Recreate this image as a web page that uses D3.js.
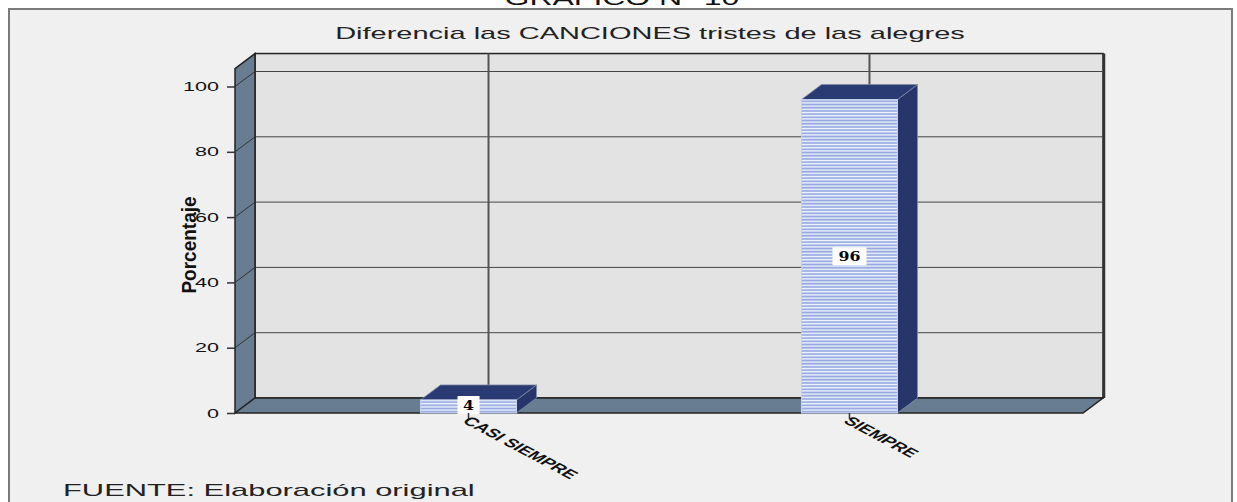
<!DOCTYPE html>
<html><head><meta charset="utf-8">
<script src="https://cdn.jsdelivr.net/npm/d3@7"></script>
<style>html,body{margin:0;padding:0;background:#fff;}</style>
</head><body>
<script>
const categories = ["CASI SIEMPRE", "SIEMPRE"];
const values = [4, 96];
const valueLabels = ["4", "96"];
const yTicks = [0, 20, 40, 60, 80, 100];
const chartTitle = "Diferencia las CANCIONES tristes de las alegres";
const topTitle = "GRAFICO N° 10";
const yLabel = "Porcentaje";
const source = "FUENTE: Elaboración original";

const W = 1237, H = 502, SX = 1.7;
const svg = d3.select("body").append("svg").attr("width", W).attr("height", H);
const defs = svg.append("defs");
const pat = defs.append("pattern").attr("id","stripes").attr("patternUnits","userSpaceOnUse")
  .attr("width",4).attr("height",3.2);
pat.append("rect").attr("width",4).attr("height",3.2).attr("fill","#f4f7fe");
pat.append("rect").attr("y",1.2).attr("width",4).attr("height",1.8).attr("fill","#93a8df");

const SANS = "Arial, Liberation Sans, sans-serif";
function stext(parent, str, x, y, opts) {
  const t = parent.append("text").attr("font-family", opts.family || SANS)
    .attr("font-size", opts.size).attr("fill", opts.fill || "#111")
    .attr("text-anchor", opts.anchor || "start").text(str);
  if (opts.weight) t.attr("font-weight", opts.weight);
  let sx = SX;
  if (opts.width) sx = opts.width / t.node().getComputedTextLength();
  t.attr("transform", `translate(${x},${y}) scale(${sx},1)`);
  return t;
}

// frame
svg.append("rect").attr("x",9).attr("y",9).attr("width",1223).attr("height",H).attr("fill","#f0f0f0")
  .attr("stroke","#7a7a7a").attr("stroke-width",2);
stext(svg, topTitle, 622, 5, {size:20, anchor:"middle", width:235});
stext(svg, chartTitle, 650, 39, {size:17, anchor:"middle", width:630, fill:"#222"});

const x0 = 235, x1 = 1083, dx = 20, dy = -15;
const y = d3.scaleLinear().domain([0, 100]).range([413, 86.5]);
const x = d3.scalePoint().domain(categories).range([x0, x1]).padding(0.613);
const yTopVal = 105.5;
const barW = 96;

const g = svg.append("g");
g.append("rect").attr("x",x0+dx).attr("y",y(yTopVal)+dy).attr("width",x1-x0).attr("height",y(0)-y(yTopVal))
  .attr("fill","#e3e3e3").attr("stroke","#222").attr("stroke-width",1.5);
g.append("line").attr("x1",x1+dx+1).attr("x2",x1+dx+1).attr("y1",y(yTopVal)+dy).attr("y2",y(0)+dy)
  .attr("stroke","#333").attr("stroke-width",2.5);
g.selectAll(".grid").data(yTicks.filter(d=>d>0)).join("line")
  .attr("x1",x0+dx).attr("x2",x1+dx).attr("y1",d=>y(d)+dy).attr("y2",d=>y(d)+dy)
  .attr("stroke","#444").attr("stroke-width",1);
g.selectAll(".vg").data(categories).join("line")
  .attr("x1",d=>x(d)+dx).attr("x2",d=>x(d)+dx).attr("y1",y(yTopVal)+dy).attr("y2",y(0)+dy)
  .attr("stroke","#555").attr("stroke-width",2);
g.append("path").attr("d",`M${x0},${y(0)}L${x0},${y(yTopVal)}L${x0+dx},${y(yTopVal)+dy}L${x0+dx},${y(0)+dy}Z`)
  .attr("fill","#687d92").attr("stroke","#222").attr("stroke-width",1.5);
g.selectAll(".lg").data(yTicks.filter(d=>d>0)).join("line")
  .attr("x1",x0).attr("x2",x0+dx).attr("y1",d=>y(d)).attr("y2",d=>y(d)+dy)
  .attr("stroke","#333").attr("stroke-width",1);
g.append("path").attr("d",`M${x0},${y(0)}L${x0+dx},${y(0)+dy}L${x1+dx},${y(0)+dy}L${x1},${y(0)}Z`)
  .attr("fill","#687d92").attr("stroke","#222").attr("stroke-width",1.5);

const ya = svg.append("g").attr("transform",`translate(${x0},0)`)
  .call(d3.axisLeft(y).tickValues(yTicks).tickSize(8).tickFormat(""));
ya.select(".domain").remove();
ya.selectAll("line").attr("stroke","#333").attr("stroke-width",1.5);
yTicks.forEach(v => stext(svg, String(v), 219, y(v)+4.5, {size:13, anchor:"end", fill:"#111", width: String(v).length*12}));

svg.append("text").attr("transform",`translate(196,245) scale(1.05,1) rotate(-90)`).attr("text-anchor","middle")
  .attr("font-family","Liberation Sans Narrow, Arial Narrow, Arial, sans-serif").attr("font-weight","bold")
  .attr("font-size",19).attr("fill","#111").text(yLabel);

const bars = svg.append("g");
categories.forEach((c,i)=>{
  const cx = x(c), xl = cx - barW/2, xr = cx + barW/2;
  const yt = y(values[i]), yb = y(0);
  bars.append("path").attr("d",`M${xr},${yb}L${xr},${yt}L${xr+dx},${yt+dy}L${xr+dx},${yb+dy}Z`)
    .attr("fill","#26366a").attr("stroke","#7f8aa6").attr("stroke-width",0.8);
  bars.append("path").attr("d",`M${xl},${yt}L${xl+dx},${yt+dy}L${xr+dx},${yt+dy}L${xr},${yt}Z`)
    .attr("fill","#2a3a72").attr("stroke","#7f8aa6").attr("stroke-width",0.8);
  bars.append("rect").attr("x",xl).attr("y",yt).attr("width",barW).attr("height",yb-yt)
    .attr("fill","url(#stripes)").attr("stroke","#c5d0ee").attr("stroke-width",1);
  const ly = values[i] > 20 ? (yt+yb)/2 : yb - 8;
  const bw = valueLabels[i].length*12 + 10;
  bars.append("rect").attr("x",cx-bw/2).attr("y",ly-9).attr("width",bw).attr("height",18).attr("fill","#fff");
  stext(bars, valueLabels[i], cx, ly+5, {size:12, anchor:"middle", weight:"bold", family:"DejaVu Serif, serif", fill:"#000", width: valueLabels[i].length*11});
  bars.append("line").attr("x1",cx).attr("x2",cx).attr("y1",yb).attr("y2",yb+6).attr("stroke","#333").attr("stroke-width",1.5);
  bars.append("text").attr("transform",`translate(${cx-7},${yb+9}) scale(${SX},1) rotate(42)`)
    .attr("font-family",SANS).attr("font-weight","bold")
    .attr("font-size",12).attr("fill","#111").text(c);
});

stext(svg, source, 63, 496, {size:16, fill:"#222", width:412});
</script>
</body></html>
